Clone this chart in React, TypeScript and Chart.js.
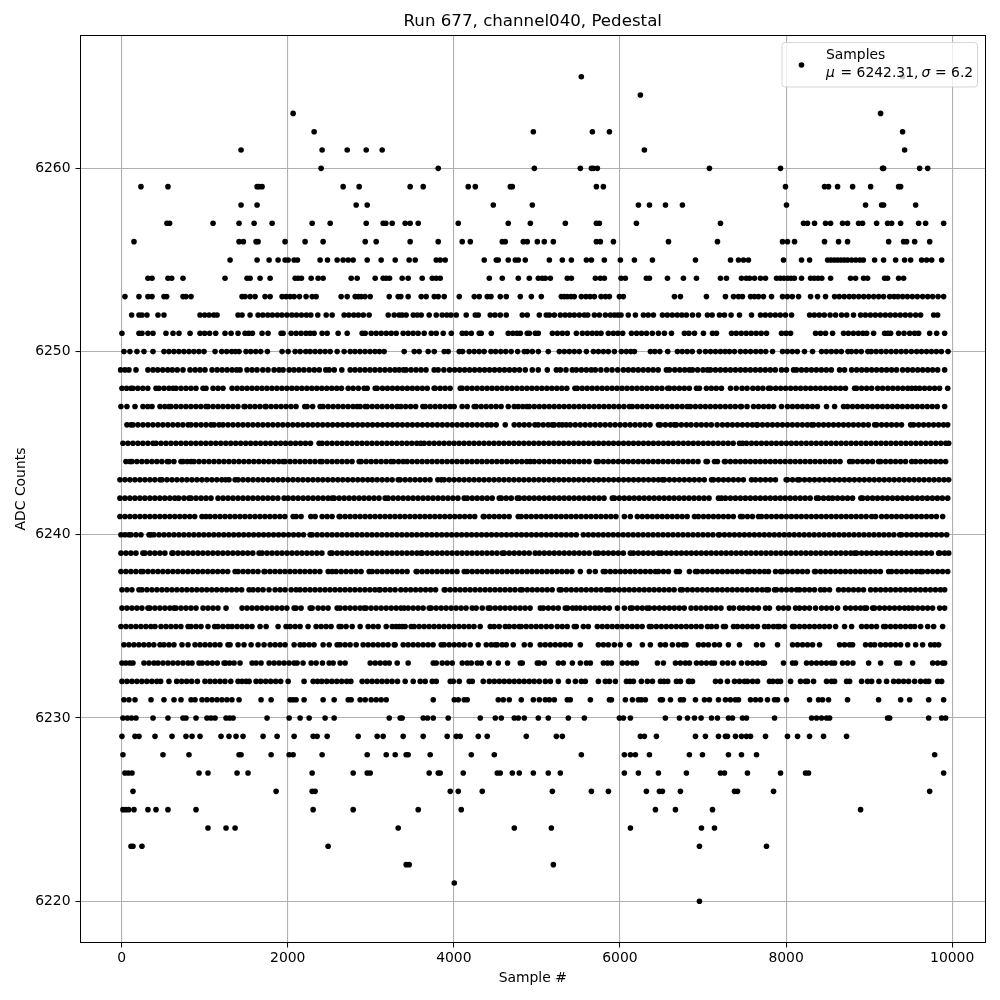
import React, { useEffect, useRef } from "react";
import { Chart, registerables } from "chart.js";

Chart.register(...registerables);

const title = "Run 677, channel040, Pedestal";
const xLabel = "Sample #";
const yLabel = "ADC Counts";
const xTicks = [0, 2000, 4000, 6000, 8000, 10000];
const yTicks = [6220, 6230, 6240, 6250, 6260];

const adc6265 = [5535, 9403];
const adc6264 = [6246];
const adc6263 = [2065, 9138];
const adc6262 = [2318, 4957, 5668, 5873, 9403];
const adc6261 = [1438, 2414, 2716, 2945, 3137, 6294, 9427];
const adc6260 = [2402, 3812, 4969, 5523, 5656, 5680, 5728, 7077, 7933, 9162, 9174, 9608, 9705];
const adc6259 = [233, 558, 1631, 1655, 1691, 2667, 2860, 3474, 3631, 4173, 4258, 4680, 4704, 5716, 5800, 7993, 8463, 8511, 8620, 8801, 9018, 9355, 9379];
const adc6258 = [1438, 1631, 2824, 2957, 4475, 4945, 6222, 6355, 6548, 6752, 8005, 8957, 9150, 9174, 9560];
const adc6257 = [546, 578, 1101, 1414, 1595, 1812, 2294, 2511, 2945, 3149, 3181, 3258, 3414, 3474, 3571, 4053, 4655, 4921, 5342, 5716, 5752, 6198, 7210, 8210, 8258, 8343, 8475, 8536, 8680, 8740, 8873, 8921, 9090, 9222, 9271, 9379, 9596, 9680, 9897];
const adc6256 = [149, 1414, 1466, 1619, 1643, 1968, 2209, 2426, 2933, 3065, 3474, 3812, 4101, 4198, 4583, 4619, 4836, 4884, 5005, 5089, 5198, 5716, 5764, 5921, 6584, 7174, 7957, 8017, 8102, 8463, 8632, 8740, 9235, 9415, 9451, 9548, 9729];
const adc6255 = [1306, 1631, 1776, 1884, 1968, 2005, 2077, 2117, 2390, 2479, 2595, 2667, 2728, 2788, 2957, 3125, 3294, 3462, 3535, 3788, 3836, 3896, 4366, 4511, 4535, 4655, 4740, 4776, 4860, 5150, 5306, 5415, 5596, 5656, 5812, 6005, 6174, 6391, 6909, 7331, 7427, 7487, 7547, 7969, 8186, 8283, 8500, 8540, 8580, 8620, 8660, 8700, 8740, 8790, 8840, 8890, 8930, 9066, 9174, 9319, 9427, 9500, 9632, 9692, 9753, 9873];
const adc6254 = [317, 366, 558, 603, 739, 1245, 1510, 1547, 1667, 1788, 2089, 2125, 2165, 2282, 2366, 2426, 2764, 2836, 3053, 3149, 3186, 3226, 3378, 3450, 3619, 3740, 3788, 3836, 4427, 4583, 4776, 4909, 5017, 5065, 5101, 5162, 5366, 5415, 5704, 5764, 5812, 6013, 6065, 6318, 6355, 6572, 6764, 6921, 7210, 7282, 7463, 7520, 7560, 7620, 7692, 7752, 7885, 7930, 7975, 8020, 8060, 8100, 8186, 8295, 8340, 8385, 8430, 8536, 8776, 8837, 8933, 8981, 9186, 9222, 9355, 9415];
const adc6253 = [40, 209, 317, 366, 510, 542, 739, 775, 836, 1450, 1486, 1547, 1607, 1727, 1788, 1932, 1980, 2029, 2077, 2141, 2221, 2294, 2342, 2643, 2716, 2812, 2850, 2884, 2930, 2993, 3222, 3330, 3362, 3450, 3607, 3667, 3764, 3812, 3884, 4065, 4246, 4306, 4402, 4447, 4559, 4631, 4800, 4933, 5053, 5294, 5330, 5366, 5410, 5450, 5535, 5590, 5640, 5692, 5772, 5825, 5873, 5993, 6041, 6656, 6728, 7041, 7270, 7367, 7427, 7475, 7572, 7620, 7668, 7728, 7825, 7957, 8015, 8075, 8150, 8295, 8379, 8475, 8584, 8640, 8700, 8760, 8815, 8875, 8935, 8995, 9055, 9115, 9174, 9247, 9300, 9347, 9403, 9460, 9520, 9580, 9644, 9705, 9765, 9830, 9897];
const adc6252 = [121, 209, 245, 305, 438, 510, 944, 1000, 1053, 1110, 1149, 1402, 1450, 1547, 1643, 1700, 1760, 1815, 1875, 1930, 1990, 2050, 2105, 2165, 2225, 2278, 2362, 2463, 2535, 2679, 2735, 2795, 2850, 2910, 2980, 3210, 3282, 3342, 3378, 3426, 3511, 3559, 3607, 3703, 3788, 3860, 3915, 3965, 4029, 4149, 4258, 4294, 4438, 4495, 4559, 4631, 4824, 4884, 5029, 5113, 5150, 5210, 5282, 5340, 5395, 5450, 5511, 5571, 5612, 5692, 5752, 5824, 5885, 5933, 5975, 6013, 6100, 6186, 6282, 6340, 6403, 6511, 6570, 6630, 6690, 6745, 6800, 6873, 6945, 7053, 7110, 7198, 7258, 7338, 7439, 7584, 7692, 7750, 7810, 7870, 7930, 7993, 8066, 8283, 8340, 8400, 8460, 8530, 8596, 8668, 8730, 8812, 8897, 8955, 9015, 9075, 9135, 9195, 9255, 9315, 9375, 9435, 9495, 9560, 9620, 9777, 9825];
const adc6251 = [4, 209, 245, 317, 378, 534, 619, 691, 824, 944, 1000, 1060, 1133, 1245, 1318, 1402, 1486, 1530, 1575, 1691, 1763, 1920, 1944, 2041, 2101, 2160, 2220, 2270, 2318, 2414, 2475, 2607, 2716, 2896, 2933, 3005, 3065, 3125, 3186, 3246, 3306, 3390, 3450, 3510, 3570, 3643, 3728, 3788, 3872, 3969, 4101, 4149, 4210, 4306, 4330, 4451, 4655, 4710, 4760, 4800, 4884, 4909, 4981, 5017, 5186, 5246, 5306, 5366, 5475, 5547, 5607, 5665, 5720, 5772, 5860, 5920, 5975, 6033, 6138, 6200, 6260, 6320, 6390, 6463, 6535, 6620, 6776, 6830, 6897, 7005, 7114, 7162, 7343, 7400, 7460, 7520, 7580, 7640, 7700, 7764, 7945, 8000, 8054, 8355, 8415, 8475, 8560, 8692, 8750, 8810, 8870, 8925, 8970, 9054, 9186, 9225, 9259, 9355, 9420, 9488, 9548, 9596, 9729, 9813, 9909];
const adc6250 = [28, 100, 185, 269, 378, 510, 570, 630, 690, 750, 810, 870, 930, 992, 1125, 1205, 1265, 1325, 1370, 1414, 1498, 1555, 1615, 1675, 1755, 1932, 2005, 2089, 2150, 2217, 2270, 2330, 2390, 2450, 2511, 2595, 2679, 2752, 2810, 2870, 2930, 2990, 3050, 3105, 3161, 3402, 3523, 3583, 3691, 3764, 3884, 3932, 4065, 4105, 4185, 4245, 4305, 4365, 4447, 4503, 4565, 4625, 4690, 4768, 4848, 4884, 4945, 5017, 5137, 5270, 5330, 5390, 5450, 5510, 5596, 5680, 5740, 5800, 5860, 5933, 6017, 6075, 6130, 6174, 6367, 6420, 6480, 6575, 6692, 6750, 6810, 6870, 6957, 7029, 7090, 7150, 7210, 7265, 7318, 7379, 7450, 7511, 7572, 7635, 7695, 7755, 7837, 7957, 8015, 8075, 8135, 8222, 8319, 8427, 8485, 8545, 8605, 8665, 8745, 8785, 8845, 8905, 8985, 9026, 9085, 9145, 9205, 9265, 9325, 9385, 9445, 9508, 9572, 9630, 9690, 9750, 9810, 9870, 9950];
const adc6249 = [-12, 40, 88, 173, 317, 378, 435, 495, 555, 610, 670, 739, 824, 885, 944, 1004, 1089, 1150, 1210, 1270, 1330, 1385, 1426, 1510, 1570, 1630, 1700, 1763, 1836, 1896, 1944, 2017, 2075, 2135, 2195, 2258, 2320, 2380, 2458, 2499, 2560, 2651, 2752, 2810, 2870, 2930, 2990, 3050, 3110, 3170, 3230, 3290, 3342, 3394, 3426, 3485, 3545, 3605, 3665, 3763, 3811, 3880, 3948, 4010, 4070, 4130, 4190, 4250, 4310, 4370, 4430, 4490, 4550, 4610, 4670, 4730, 4790, 4860, 4944, 5016, 5125, 5234, 5282, 5350, 5426, 5474, 5535, 5595, 5655, 5703, 5770, 5840, 5905, 5973, 6041, 6100, 6160, 6220, 6280, 6340, 6400, 6460, 6559, 6595, 6660, 6720, 6780, 6836, 6873, 6935, 7000, 7053, 7090, 7150, 7210, 7270, 7330, 7390, 7451, 7510, 7570, 7630, 7690, 7750, 7810, 7870, 7945, 8005, 8090, 8126, 8185, 8245, 8305, 8365, 8425, 8485, 8545, 8644, 8704, 8789, 8850, 8910, 8970, 9030, 9090, 9150, 9210, 9270, 9330, 9403, 9464, 9524, 9585, 9645, 9705, 9765, 9825, 9909];
const adc6248 = [4, 60, 113, 137, 195, 255, 315, 414, 450, 510, 570, 619, 655, 715, 775, 835, 895, 980, 1016, 1101, 1161, 1221, 1330, 1390, 1450, 1510, 1570, 1630, 1690, 1750, 1810, 1870, 1930, 1990, 2050, 2110, 2170, 2230, 2290, 2350, 2410, 2470, 2530, 2590, 2647, 2728, 2788, 2850, 2920, 2957, 3053, 3077, 3140, 3200, 3260, 3320, 3380, 3440, 3500, 3560, 3620, 3680, 3763, 3775, 3835, 3895, 3955, 4077, 4100, 4160, 4220, 4280, 4340, 4400, 4460, 4520, 4580, 4640, 4700, 4760, 4820, 4880, 4940, 5000, 5060, 5120, 5180, 5240, 5300, 5360, 5458, 5486, 5545, 5605, 5665, 5725, 5785, 5845, 5905, 5965, 6025, 6085, 6145, 6205, 6265, 6325, 6385, 6445, 6505, 6575, 6595, 6655, 6715, 6775, 6835, 6921, 6957, 7041, 7100, 7160, 7222, 7331, 7400, 7470, 7530, 7600, 7660, 7720, 7788, 7813, 7875, 7935, 7995, 8055, 8115, 8175, 8235, 8295, 8355, 8415, 8475, 8535, 8595, 8655, 8715, 8825, 8849, 8909, 8970, 9030, 9102, 9162, 9225, 9285, 9345, 9405, 9465, 9512, 9560, 9608, 9668, 9728, 9788, 9848, 9946];
const adc6247 = [-8, 64, 161, 257, 315, 366, 462, 520, 570, 594, 654, 714, 774, 834, 894, 954, 1016, 1040, 1100, 1160, 1220, 1280, 1340, 1400, 1474, 1486, 1545, 1605, 1665, 1727, 1740, 1800, 1860, 1920, 1980, 2040, 2100, 2205, 2233, 2300, 2390, 2426, 2486, 2546, 2606, 2666, 2726, 2786, 2836, 2872, 2933, 2957, 3017, 3077, 3137, 3197, 3257, 3317, 3362, 3420, 3480, 3540, 3627, 3655, 3715, 3775, 3835, 3895, 3955, 4004, 4100, 4161, 4245, 4269, 4329, 4389, 4449, 4509, 4569, 4655, 4727, 4775, 4830, 4880, 4908, 4968, 5028, 5088, 5148, 5208, 5268, 5328, 5388, 5448, 5508, 5568, 5628, 5688, 5748, 5808, 5868, 5928, 5988, 6048, 6113, 6149, 6209, 6269, 6329, 6389, 6449, 6509, 6569, 6629, 6689, 6749, 6809, 6848, 6908, 6968, 7028, 7088, 7148, 7208, 7268, 7328, 7388, 7451, 7463, 7530, 7608, 7668, 7730, 7790, 7850, 7945, 8017, 8077, 8137, 8197, 8257, 8317, 8377, 8487, 8584, 8692, 8740, 8800, 8860, 8920, 8980, 9040, 9100, 9160, 9220, 9280, 9340, 9400, 9460, 9520, 9580, 9640, 9700, 9760, 9820, 9909];
const adc6246 = [64, 113, 137, 197, 257, 317, 377, 437, 497, 557, 617, 677, 737, 800, 836, 896, 956, 1016, 1076, 1113, 1173, 1221, 1281, 1341, 1401, 1461, 1521, 1581, 1641, 1701, 1761, 1821, 1881, 1941, 2001, 2061, 2121, 2181, 2241, 2301, 2361, 2421, 2481, 2541, 2601, 2661, 2721, 2781, 2841, 2901, 2961, 3021, 3081, 3141, 3201, 3261, 3321, 3381, 3441, 3501, 3561, 3621, 3681, 3741, 3801, 3861, 3921, 3981, 4041, 4101, 4161, 4221, 4281, 4341, 4401, 4450, 4510, 4619, 4727, 4787, 4847, 4907, 4976, 5016, 5076, 5136, 5185, 5209, 5265, 5306, 5354, 5402, 5462, 5522, 5582, 5642, 5702, 5762, 5822, 5882, 5942, 6002, 6062, 6122, 6182, 6242, 6302, 6362, 6463, 6487, 6547, 6607, 6655, 6679, 6739, 6800, 6856, 6920, 6980, 7040, 7100, 7170, 7234, 7294, 7354, 7414, 7474, 7534, 7594, 7644, 7656, 7716, 7776, 7836, 7896, 7956, 8016, 8076, 8136, 8196, 8256, 8307, 8331, 8391, 8451, 8511, 8571, 8631, 8691, 8751, 8811, 8871, 8931, 8991, 9066, 9090, 9150, 9210, 9270, 9330, 9390, 9500, 9536, 9596, 9656, 9716, 9776, 9836, 9896, 9946];
const adc6245 = [16, 76, 136, 196, 256, 316, 378, 414, 474, 534, 594, 654, 714, 774, 834, 894, 954, 1014, 1074, 1134, 1194, 1254, 1314, 1374, 1434, 1494, 1554, 1614, 1674, 1734, 1794, 1854, 1914, 1974, 2034, 2094, 2154, 2214, 2274, 2378, 2414, 2474, 2534, 2594, 2654, 2714, 2774, 2834, 2894, 2954, 3014, 3074, 3134, 3194, 3254, 3314, 3374, 3434, 3494, 3554, 3602, 3643, 3703, 3763, 3823, 3883, 3943, 4003, 4063, 4123, 4183, 4243, 4303, 4363, 4423, 4483, 4543, 4603, 4663, 4723, 4783, 4843, 4903, 4963, 5023, 5083, 5143, 5203, 5263, 5323, 5383, 5443, 5503, 5563, 5623, 5683, 5743, 5803, 5863, 5923, 5983, 6043, 6103, 6163, 6223, 6283, 6343, 6403, 6463, 6523, 6583, 6643, 6703, 6763, 6823, 6883, 6943, 7003, 7063, 7123, 7183, 7243, 7303, 7363, 7439, 7475, 7523, 7583, 7643, 7703, 7763, 7823, 7883, 7943, 8003, 8063, 8123, 8183, 8243, 8303, 8363, 8423, 8483, 8543, 8603, 8663, 8723, 8783, 8843, 8903, 8963, 9023, 9083, 9143, 9203, 9263, 9323, 9383, 9443, 9503, 9563, 9623, 9683, 9743, 9803, 9863, 9923, 9958];
const adc6244 = [52, 100, 124, 184, 244, 304, 364, 424, 484, 550, 570, 630, 715, 739, 790, 836, 872, 932, 992, 1052, 1112, 1172, 1232, 1292, 1352, 1412, 1472, 1532, 1592, 1652, 1712, 1772, 1832, 1892, 1944, 1968, 2028, 2088, 2148, 2208, 2268, 2328, 2390, 2414, 2474, 2534, 2594, 2654, 2714, 2774, 2860, 2884, 2944, 3004, 3064, 3124, 3184, 3242, 3274, 3334, 3390, 3438, 3498, 3558, 3618, 3678, 3738, 3798, 3858, 3918, 3978, 4038, 4098, 4158, 4218, 4278, 4338, 4398, 4458, 4518, 4578, 4638, 4698, 4758, 4818, 4878, 4920, 4968, 5028, 5088, 5148, 5208, 5268, 5328, 5388, 5448, 5508, 5568, 5628, 5715, 5740, 5800, 5860, 5920, 5980, 6040, 6100, 6160, 6220, 6280, 6340, 6400, 6460, 6520, 6580, 6640, 6700, 6760, 6820, 6880, 6940, 7037, 7053, 7138, 7174, 7258, 7270, 7330, 7390, 7450, 7510, 7570, 7630, 7690, 7750, 7810, 7870, 7930, 7990, 8050, 8110, 8170, 8230, 8290, 8350, 8410, 8470, 8530, 8590, 8650, 8765, 8801, 8861, 8921, 8981, 9041, 9114, 9138, 9198, 9258, 9318, 9378, 9438, 9512, 9560, 9620, 9680, 9740, 9800, 9860, 9921];
const adc6243 = [-20, 40, 100, 160, 220, 280, 340, 400, 462, 486, 546, 606, 666, 726, 786, 846, 906, 966, 1026, 1086, 1146, 1206, 1253, 1293, 1366, 1402, 1462, 1522, 1582, 1643, 1703, 1763, 1823, 1883, 1943, 2003, 2063, 2123, 2183, 2243, 2303, 2363, 2423, 2483, 2543, 2603, 2663, 2723, 2783, 2843, 2903, 2963, 3017, 3077, 3137, 3197, 3257, 3329, 3353, 3413, 3473, 3533, 3593, 3653, 3713, 3807, 3848, 3884, 3944, 4004, 4064, 4124, 4184, 4244, 4304, 4364, 4424, 4484, 4544, 4604, 4664, 4724, 4784, 4844, 4904, 4964, 5024, 5084, 5144, 5204, 5264, 5324, 5384, 5444, 5504, 5564, 5624, 5684, 5744, 5804, 5864, 5924, 5984, 6044, 6104, 6164, 6224, 6284, 6344, 6404, 6464, 6511, 6535, 6595, 6655, 6715, 6775, 6835, 6895, 6955, 7015, 7102, 7126, 7186, 7246, 7306, 7366, 7426, 7486, 7584, 7632, 7692, 7752, 7812, 7872, 8001, 8017, 8077, 8138, 8162, 8222, 8282, 8342, 8402, 8462, 8522, 8582, 8642, 8702, 8762, 8822, 8882, 8942, 9002, 9062, 9122, 9182, 9242, 9302, 9362, 9422, 9482, 9542, 9602, 9662, 9722, 9782, 9842, 9902, 9958];
const adc6242 = [-20, 40, 100, 160, 220, 280, 340, 400, 460, 520, 580, 640, 687, 751, 811, 836, 896, 956, 1016, 1076, 1161, 1221, 1281, 1341, 1401, 1461, 1521, 1581, 1641, 1701, 1761, 1821, 1881, 1956, 2005, 2065, 2125, 2185, 2245, 2305, 2365, 2425, 2485, 2535, 2559, 2619, 2679, 2739, 2799, 2859, 2919, 2979, 3039, 3099, 3173, 3209, 3269, 3329, 3389, 3449, 3509, 3569, 3629, 3689, 3749, 3809, 3869, 3929, 3989, 4049, 4125, 4161, 4221, 4281, 4341, 4401, 4461, 4547, 4571, 4631, 4691, 4764, 4788, 4848, 4908, 4968, 5028, 5088, 5148, 5208, 5268, 5328, 5388, 5448, 5508, 5568, 5628, 5688, 5748, 5808, 5908, 5932, 5992, 6052, 6112, 6172, 6232, 6292, 6352, 6412, 6472, 6532, 6592, 6652, 6712, 6772, 6832, 6892, 6952, 7012, 7072, 7186, 7222, 7270, 7330, 7390, 7450, 7510, 7570, 7630, 7690, 7750, 7810, 7870, 7930, 7990, 8050, 8110, 8170, 8230, 8290, 8367, 8391, 8451, 8511, 8560, 8620, 8680, 8740, 8800, 8901, 8921, 8981, 9041, 9101, 9161, 9221, 9281, 9341, 9401, 9461, 9521, 9581, 9641, 9701, 9761, 9821, 9881, 9946];
const adc6241 = [-20, 40, 100, 160, 220, 280, 340, 400, 460, 520, 580, 640, 700, 760, 820, 880, 968, 1016, 1065, 1125, 1185, 1245, 1305, 1365, 1425, 1485, 1545, 1605, 1665, 1725, 1785, 1845, 1905, 1965, 2065, 2101, 2161, 2278, 2330, 2414, 2474, 2534, 2619, 2631, 2691, 2751, 2811, 2871, 2931, 2991, 3051, 3111, 3171, 3231, 3291, 3351, 3411, 3471, 3531, 3591, 3651, 3711, 3771, 3831, 3891, 3951, 4011, 4071, 4131, 4191, 4251, 4354, 4366, 4426, 4486, 4546, 4606, 4666, 4775, 4811, 4872, 4932, 4992, 5052, 5112, 5172, 5232, 5292, 5352, 5412, 5472, 5532, 5592, 5652, 5712, 5772, 5832, 5892, 5952, 6053, 6125, 6209, 6269, 6329, 6389, 6449, 6509, 6569, 6629, 6689, 6749, 6809, 6897, 6945, 7005, 7065, 7125, 7185, 7245, 7305, 7365, 7451, 7475, 7535, 7595, 7668, 7704, 7764, 7824, 7884, 7944, 8004, 8064, 8124, 8184, 8244, 8304, 8364, 8424, 8484, 8544, 8604, 8664, 8724, 8784, 8844, 8904, 8964, 9030, 9078, 9150, 9210, 9270, 9330, 9390, 9450, 9510, 9570, 9630, 9690, 9750, 9810, 9885];
const adc6240 = [-8, 40, 88, 113, 173, 233, 330, 354, 390, 450, 510, 570, 630, 690, 750, 810, 870, 930, 990, 1050, 1110, 1170, 1230, 1290, 1350, 1410, 1470, 1530, 1590, 1650, 1710, 1770, 1830, 1890, 1950, 2010, 2070, 2130, 2190, 2270, 2294, 2354, 2414, 2474, 2534, 2594, 2654, 2714, 2774, 2834, 2894, 2954, 3014, 3074, 3134, 3194, 3254, 3314, 3374, 3434, 3494, 3554, 3614, 3674, 3734, 3794, 3854, 3914, 3974, 4034, 4094, 4154, 4214, 4274, 4334, 4394, 4454, 4514, 4574, 4634, 4694, 4754, 4814, 4874, 4934, 4994, 5054, 5114, 5174, 5234, 5294, 5354, 5414, 5474, 5559, 5619, 5679, 5739, 5799, 5859, 5919, 5979, 6039, 6099, 6159, 6219, 6279, 6339, 6399, 6459, 6519, 6579, 6639, 6699, 6759, 6819, 6879, 6939, 6999, 7059, 7119, 7186, 7198, 7258, 7318, 7378, 7438, 7498, 7558, 7618, 7678, 7738, 7798, 7858, 7918, 7978, 8038, 8098, 8158, 8218, 8278, 8338, 8398, 8458, 8518, 8578, 8638, 8698, 8758, 8818, 8878, 8938, 8998, 9058, 9118, 9178, 9238, 9298, 9367, 9391, 9451, 9511, 9571, 9631, 9691, 9751, 9811, 9871, 9934];
const adc6239 = [-8, 52, 112, 172, 257, 281, 341, 401, 461, 521, 606, 619, 679, 739, 799, 859, 919, 979, 1039, 1099, 1159, 1219, 1279, 1339, 1399, 1459, 1519, 1579, 1655, 1691, 1751, 1811, 1871, 1931, 1991, 2051, 2111, 2171, 2231, 2291, 2351, 2411, 2511, 2535, 2595, 2655, 2715, 2775, 2835, 2895, 2955, 3015, 3075, 3135, 3195, 3255, 3315, 3375, 3435, 3495, 3555, 3606, 3619, 3679, 3739, 3799, 3859, 3919, 3979, 4039, 4099, 4159, 4219, 4279, 4339, 4399, 4459, 4519, 4583, 4607, 4667, 4727, 4787, 4847, 4907, 4980, 5029, 5089, 5149, 5209, 5269, 5329, 5389, 5449, 5509, 5569, 5629, 5703, 5740, 5800, 5860, 5920, 5980, 6040, 6125, 6161, 6221, 6281, 6341, 6401, 6463, 6499, 6559, 6619, 6679, 6739, 6799, 6859, 6919, 6979, 7039, 7099, 7159, 7219, 7279, 7339, 7399, 7459, 7519, 7579, 7639, 7699, 7759, 7819, 7879, 7939, 7999, 8059, 8119, 8179, 8239, 8299, 8359, 8419, 8479, 8539, 8599, 8659, 8719, 8779, 8825, 8849, 8909, 8969, 9029, 9089, 9149, 9209, 9269, 9329, 9389, 9449, 9509, 9569, 9629, 9689, 9749, 9837, 9849, 9909, 9958];
const adc6238 = [-8, 52, 112, 172, 233, 257, 317, 377, 437, 497, 557, 617, 677, 737, 797, 857, 917, 977, 1037, 1097, 1157, 1217, 1277, 1366, 1402, 1462, 1522, 1582, 1642, 1715, 1727, 1787, 1847, 1907, 1967, 2027, 2087, 2147, 2207, 2267, 2327, 2387, 2487, 2535, 2583, 2643, 2703, 2763, 2823, 2883, 2980, 3017, 3077, 3137, 3197, 3257, 3317, 3377, 3437, 3546, 3558, 3618, 3678, 3738, 3798, 3858, 3918, 3978, 4038, 4125, 4161, 4221, 4281, 4341, 4401, 4461, 4521, 4581, 4641, 4701, 4761, 4821, 4881, 4941, 5001, 5061, 5121, 5181, 5241, 5301, 5361, 5421, 5523, 5631, 5703, 5800, 5824, 5884, 5944, 6004, 6064, 6124, 6184, 6246, 6306, 6366, 6426, 6463, 6523, 6583, 6680, 6716, 6836, 6909, 6933, 6993, 7053, 7113, 7173, 7233, 7293, 7353, 7413, 7473, 7535, 7560, 7620, 7680, 7740, 7788, 7873, 7933, 7957, 8017, 8077, 8137, 8197, 8257, 8343, 8355, 8415, 8475, 8535, 8595, 8655, 8715, 8775, 8835, 8895, 8955, 9015, 9075, 9135, 9235, 9271, 9331, 9391, 9451, 9511, 9571, 9620, 9644, 9704, 9764, 9824, 9884, 9946];
const adc6237 = [4, 64, 124, 209, 245, 305, 365, 425, 485, 545, 605, 665, 725, 785, 845, 905, 965, 1025, 1085, 1145, 1205, 1265, 1325, 1385, 1445, 1535, 1583, 1643, 1703, 1775, 1848, 1908, 1968, 2041, 2101, 2149, 2209, 2269, 2329, 2389, 2449, 2509, 2569, 2629, 2689, 2749, 2809, 2869, 2929, 2989, 3049, 3101, 3113, 3173, 3233, 3293, 3362, 3420, 3480, 3540, 3600, 3660, 3720, 3780, 3884, 3896, 3956, 4016, 4076, 4136, 4196, 4256, 4316, 4376, 4436, 4496, 4556, 4616, 4676, 4736, 4800, 4824, 4884, 4944, 5004, 5064, 5124, 5184, 5270, 5294, 5354, 5414, 5474, 5534, 5594, 5654, 5714, 5774, 5836, 5872, 5932, 5992, 6052, 6112, 6172, 6232, 6292, 6352, 6412, 6472, 6532, 6592, 6652, 6728, 6752, 6812, 6872, 6932, 6992, 7052, 7112, 7172, 7232, 7292, 7352, 7412, 7472, 7532, 7592, 7652, 7712, 7764, 7788, 7861, 7885, 7945, 8005, 8065, 8126, 8162, 8222, 8282, 8342, 8415, 8463, 8523, 8632, 8692, 8752, 8812, 8872, 8932, 9018, 9078, 9138, 9198, 9258, 9318, 9378, 9438, 9498, 9558, 9618, 9678, 9738, 9798, 9858, 9909];
const adc6236 = [4, 64, 124, 184, 244, 317, 341, 401, 461, 521, 581, 630, 655, 715, 775, 835, 896, 980, 1040, 1100, 1160, 1257, 1450, 1510, 1570, 1630, 1690, 1750, 1810, 1870, 1930, 1990, 2077, 2101, 2161, 2270, 2294, 2366, 2426, 2486, 2595, 2631, 2691, 2751, 2811, 2871, 2920, 2944, 3004, 3064, 3125, 3186, 3246, 3306, 3362, 3402, 3450, 3510, 3570, 3630, 3703, 3727, 3787, 3847, 3907, 3967, 4027, 4087, 4147, 4221, 4269, 4342, 4414, 4438, 4498, 4558, 4618, 4678, 4738, 4798, 4858, 4918, 5041, 5077, 5137, 5197, 5257, 5342, 5370, 5430, 5474, 5522, 5582, 5642, 5700, 5752, 5812, 5872, 5969, 6053, 6125, 6149, 6209, 6269, 6326, 6354, 6414, 6474, 6534, 6594, 6654, 6714, 6774, 6856, 6916, 6976, 7036, 7096, 7156, 7216, 7318, 7367, 7439, 7487, 7547, 7607, 7667, 7752, 7800, 7909, 7969, 8029, 8114, 8162, 8222, 8282, 8355, 8427, 8487, 8547, 8620, 8716, 8776, 8836, 8896, 8945, 8969, 9042, 9066, 9126, 9186, 9246, 9306, 9366, 9426, 9476, 9524, 9584, 9644, 9704, 9764, 9849, 9909];
const adc6235 = [-8, 52, 112, 172, 232, 292, 352, 402, 474, 534, 594, 654, 714, 800, 836, 896, 956, 1040, 1120, 1160, 1220, 1281, 1330, 1390, 1450, 1510, 1570, 1667, 1740, 1884, 1980, 2029, 2089, 2149, 2245, 2342, 2402, 2462, 2522, 2619, 2643, 2703, 2776, 2872, 2968, 3029, 3089, 3186, 3258, 3305, 3341, 3378, 3414, 3486, 3522, 3582, 3642, 3702, 3762, 3822, 3882, 3942, 4002, 4062, 4122, 4182, 4242, 4317, 4438, 4486, 4546, 4619, 4667, 4727, 4787, 4811, 4871, 4931, 4991, 5051, 5113, 5173, 5245, 5305, 5365, 5450, 5474, 5559, 5619, 5727, 5787, 5847, 5907, 5967, 6027, 6087, 6147, 6207, 6267, 6354, 6378, 6438, 6498, 6558, 6618, 6678, 6738, 6798, 6858, 6918, 6978, 7053, 7102, 7162, 7246, 7270, 7367, 7415, 7475, 7535, 7595, 7655, 7740, 7788, 7848, 7897, 7921, 7981, 8078, 8102, 8162, 8222, 8282, 8342, 8402, 8462, 8522, 8596, 8704, 8789, 8909, 8969, 9029, 9089, 9174, 9198, 9258, 9318, 9378, 9438, 9498, 9548, 9620, 9705, 9777, 9885];
const adc6234 = [28, 88, 148, 208, 268, 328, 388, 462, 510, 570, 630, 727, 800, 884, 944, 1004, 1064, 1124, 1184, 1281, 1306, 1402, 1474, 1559, 1643, 1715, 1788, 1848, 1908, 1968, 2077, 2149, 2197, 2257, 2317, 2426, 2499, 2595, 2631, 2691, 2751, 2824, 2908, 2968, 3028, 3088, 3148, 3208, 3282, 3293, 3390, 3450, 3510, 3570, 3630, 3690, 3750, 3848, 3884, 3944, 4004, 4064, 4124, 4197, 4293, 4390, 4450, 4498, 4522, 4582, 4631, 4715, 4848, 4920, 5040, 5100, 5161, 5221, 5282, 5342, 5402, 5523, 5740, 5800, 5860, 5932, 6005, 6113, 6270, 6366, 6487, 6547, 6631, 6704, 6796, 6764, 6945, 7005, 7065, 7138, 7198, 7306, 7439, 7644, 7716, 7897, 8078, 8138, 8198, 8258, 8319, 8403, 8644, 8704, 8764, 8801, 8957, 9017, 9066, 9138, 9198, 9258, 9318, 9379, 9464, 9560, 9644, 9741, 9789, 9837];
const adc6233 = [4, 50, 100, 137, 269, 329, 390, 438, 498, 558, 618, 678, 738, 800, 848, 932, 972, 1032, 1092, 1152, 1233, 1253, 1300, 1354, 1426, 1571, 1619, 1679, 1776, 1836, 1896, 1956, 2016, 2077, 2113, 2185, 2282, 2342, 2418, 2499, 2547, 2631, 2691, 2993, 3053, 3113, 3173, 3222, 3318, 3450, 3752, 3788, 3860, 3920, 3981, 4101, 4161, 4210, 4282, 4330, 4427, 4535, 4647, 4800, 4824, 5005, 5029, 5089, 5258, 5318, 5427, 5523, 5596, 5644, 5800, 5850, 5897, 6029, 6089, 6149, 6198, 6451, 6523, 6668, 6728, 6788, 6837, 6921, 6981, 7041, 7101, 7138, 7234, 7298, 7367, 7463, 7535, 7596, 7656, 7716, 7740, 7969, 8078, 8114, 8246, 8306, 8366, 8426, 8486, 8546, 8584, 8680, 8740, 8805, 8994, 9138, 9331, 9367, 9524, 9765, 9825, 9885, 9909];
const adc6232 = [4, 64, 124, 184, 244, 304, 364, 424, 470, 570, 663, 723, 783, 843, 912, 1004, 1064, 1124, 1184, 1244, 1314, 1402, 1450, 1500, 1535, 1619, 1675, 1735, 1795, 1855, 1915, 2005, 2197, 2306, 2358, 2410, 2470, 2530, 2590, 2650, 2710, 2760, 2896, 2956, 3016, 3076, 3136, 3196, 3256, 3322, 3414, 3511, 3595, 3655, 3740, 3788, 3957, 3993, 4065, 4185, 4222, 4354, 4427, 4487, 4547, 4607, 4667, 4727, 4787, 4847, 4907, 4967, 5029, 5101, 5162, 5258, 5378, 5463, 5535, 5583, 5740, 5824, 5873, 5945, 6078, 6120, 6162, 6258, 6330, 6391, 6487, 6530, 6575, 6680, 6728, 6825, 6873, 6836, 7150, 7210, 7294, 7379, 7439, 7499, 7535, 7596, 7656, 7800, 7841, 7897, 7933, 8054, 8174, 8234, 8258, 8331, 8487, 8547, 8584, 8728, 8765, 8909, 8981, 9030, 9118, 9210, 9295, 9355, 9415, 9475, 9548, 9620, 9680, 9717, 9825, 9873];
const adc6231 = [28, 88, 161, 354, 510, 631, 715, 836, 884, 968, 1028, 1088, 1148, 1208, 1268, 1328, 1414, 1679, 1800, 2029, 2065, 2101, 2197, 2426, 2559, 2728, 2764, 2872, 2933, 3005, 3065, 3125, 3186, 3752, 4005, 4053, 4125, 4161, 4535, 4595, 4667, 4812, 4957, 5029, 5101, 5150, 5210, 5366, 5402, 5644, 5873, 5897, 6065, 6150, 6222, 6258, 6306, 6487, 6511, 6608, 6728, 6764, 6909, 7017, 7077, 7186, 7270, 7330, 7390, 7427, 7572, 7632, 7692, 7776, 7861, 7897, 8005, 8283, 8391, 8439, 8511, 8740, 9114, 9379, 9488, 9717, 9897];
const adc6230 = [16, 70, 120, 173, 378, 558, 739, 775, 896, 1028, 1076, 1125, 1257, 1300, 1342, 1751, 2017, 2149, 2258, 2450, 2559, 3222, 3354, 3378, 3631, 3683, 3752, 3932, 4318, 4499, 4571, 4728, 4776, 4848, 5017, 5137, 5378, 5571, 5993, 6041, 6126, 6547, 6716, 6813, 6897, 6977, 7102, 7174, 7306, 7355, 7475, 7523, 7861, 8307, 8367, 8427, 8487, 8524, 9222, 9247, 9717, 9873, 9921];
const adc6229 = [4, 161, 209, 402, 607, 775, 848, 944, 1197, 1293, 1378, 1462, 1703, 1872, 2077, 2306, 2354, 2475, 2848, 3077, 3149, 3390, 3631, 3920, 4029, 4077, 4294, 4402, 4872, 5234, 5306, 6246, 6294, 6439, 6909, 7029, 7186, 7270, 7294, 7391, 7463, 7523, 7572, 7752, 8017, 8138, 8283, 8451, 8728];
const adc6228 = [16, 498, 811, 1414, 1438, 1800, 2017, 2065, 2414, 2957, 3186, 3294, 3426, 3450, 3715, 4210, 4487, 5535, 6053, 6126, 6186, 6355, 6836, 6993, 7306, 7463, 7644, 9789];
const adc6227 = [40, 80, 125, 932, 1040, 1390, 1522, 2294, 2788, 2957, 2993, 3703, 3812, 3836, 4113, 4523, 4559, 4704, 4788, 4957, 5137, 5282, 6053, 6222, 6463, 6800, 7210, 7258, 7535, 7933, 8234, 8270, 9897];
const adc6226 = [137, 1860, 2294, 2330, 3957, 4053, 4342, 5186, 5656, 5861, 6318, 6475, 6511, 6728, 7379, 7415, 7849, 9729];
const adc6225 = [16, 50, 85, 149, 317, 414, 558, 896, 2306, 2788, 3571, 4089, 6427, 6668, 7114, 8897];
const adc6224 = [1040, 1257, 1366, 3330, 4728, 5174, 6126, 6981, 7138];
const adc6223 = [113, 137, 245, 2486, 6957, 7764];
const adc6222 = [3426, 3462, 5198];
const adc6221 = [4005];
const adc6220 = [6957];

const levels: [number, number[]][] = [
  [6265, adc6265], [6264, adc6264], [6263, adc6263], [6262, adc6262], [6261, adc6261], [6260, adc6260],
  [6259, adc6259], [6258, adc6258], [6257, adc6257], [6256, adc6256], [6255, adc6255], [6254, adc6254],
  [6253, adc6253], [6252, adc6252], [6251, adc6251], [6250, adc6250], [6249, adc6249], [6248, adc6248],
  [6247, adc6247], [6246, adc6246], [6245, adc6245], [6244, adc6244], [6243, adc6243], [6242, adc6242],
  [6241, adc6241], [6240, adc6240], [6239, adc6239], [6238, adc6238], [6237, adc6237], [6236, adc6236],
  [6235, adc6235], [6234, adc6234], [6233, adc6233], [6232, adc6232], [6231, adc6231], [6230, adc6230],
  [6229, adc6229], [6228, adc6228], [6227, adc6227], [6226, adc6226], [6225, adc6225], [6224, adc6224],
  [6223, adc6223], [6222, adc6222], [6221, adc6221], [6220, adc6220],
];

const points = levels.flatMap(([y, xs]) => xs.map((x) => ({ x, y })));
const FONT = "'DejaVu Sans'";

const framePlugin = {
  id: "frame",
  afterDatasetsDraw(chart: any) {
    const { ctx } = chart;
    ctx.save();
    ctx.strokeStyle = "#000";
    ctx.lineWidth = 1;
    ctx.strokeRect(80.5, 35.5, 905, 907);
    const bx = 782, by = 42.5, bw = 195.5, bh = 44.5;
    ctx.beginPath();
    ctx.roundRect(bx, by, bw, bh, 3);
    ctx.fillStyle = "rgba(255,255,255,0.8)";
    ctx.fill();
    ctx.strokeStyle = "rgba(204,204,204,0.8)";
    ctx.stroke();
    ctx.fillStyle = "#000";
    ctx.beginPath();
    ctx.arc(801.5, 65, 2.8, 0, Math.PI * 2);
    ctx.fill();
    ctx.textBaseline = "alphabetic";
    ctx.textAlign = "left";
    ctx.fillStyle = "#000";
    ctx.font = `13.9px ${FONT}`;
    ctx.fillText("Samples", 826, 59);
    ctx.font = `italic 13.9px ${FONT}`;
    ctx.fillText("μ", 826, 77);
    ctx.fillText("σ", 921.5, 77);
    ctx.font = `13.9px ${FONT}`;
    ctx.fillText("= 6242.31,", 840.5, 77);
    ctx.fillText("= 6.2", 935, 77);
    ctx.restore();
  },
};

export default function App() {
  const ref = useRef<HTMLCanvasElement>(null);
  useEffect(() => {
    document.body.style.margin = "0";
    const chart = new Chart(ref.current as HTMLCanvasElement, {
      type: "scatter",
      data: {
        datasets: [
          {
            label: "Samples",
            data: points,
            pointRadius: 2.8,
            pointHoverRadius: 2.8,
            pointBackgroundColor: "#000",
            pointBorderWidth: 0,
            showLine: false,
          },
        ],
      },
      options: {
        animation: false,
        responsive: false,
        layout: { padding: { left: 0, right: 15, top: 0, bottom: 0 } },
        plugins: {
          legend: { display: false },
          tooltip: { enabled: false },
          title: {
            display: true,
            text: title,
            color: "#000",
            fullSize: false,
            font: { family: FONT, size: 16.67, weight: "normal" },
            padding: { top: 12, bottom: 3.5 },
          },
        },
        scales: {
          x: {
            type: "linear",
            min: -495,
            max: 10395,
            afterBuildTicks: (s: any) => { s.ticks = xTicks.map((value) => ({ value })); },
            afterFit: (s: any) => { s.height = 57.5; },
            border: { display: false },
            grid: { color: "#b0b0b0", lineWidth: 1.1, tickColor: "#000", tickLength: 5, tickWidth: 1 },
            ticks: { color: "#000", font: { family: FONT, size: 13.9 }, maxRotation: 0, padding: 3, callback: (v: any) => String(v) },
            title: { display: true, text: xLabel, color: "#000", font: { family: FONT, size: 13.9 }, padding: { top: 0, bottom: 13 } },
          },
          y: {
            type: "linear",
            min: 6217.75,
            max: 6267.25,
            afterBuildTicks: (s: any) => { s.ticks = yTicks.map((value) => ({ value })); },
            afterFit: (s: any) => { s.width = 80.5; },
            border: { display: false },
            grid: { color: "#b0b0b0", lineWidth: 1.1, tickColor: "#000", tickLength: 5, tickWidth: 1 },
            ticks: { color: "#000", font: { family: FONT, size: 13.9 }, padding: 5, callback: (v: any) => String(v) },
            title: { display: true, text: yLabel, color: "#000", font: { family: FONT, size: 13.9 }, padding: { top: 13, bottom: 0 } },
          },
        },
      },
      plugins: [framePlugin],
    } as any);
    return () => chart.destroy();
  }, []);
  return <canvas ref={ref} width={1000} height={1000} style={{ display: "block" }} />;
}
